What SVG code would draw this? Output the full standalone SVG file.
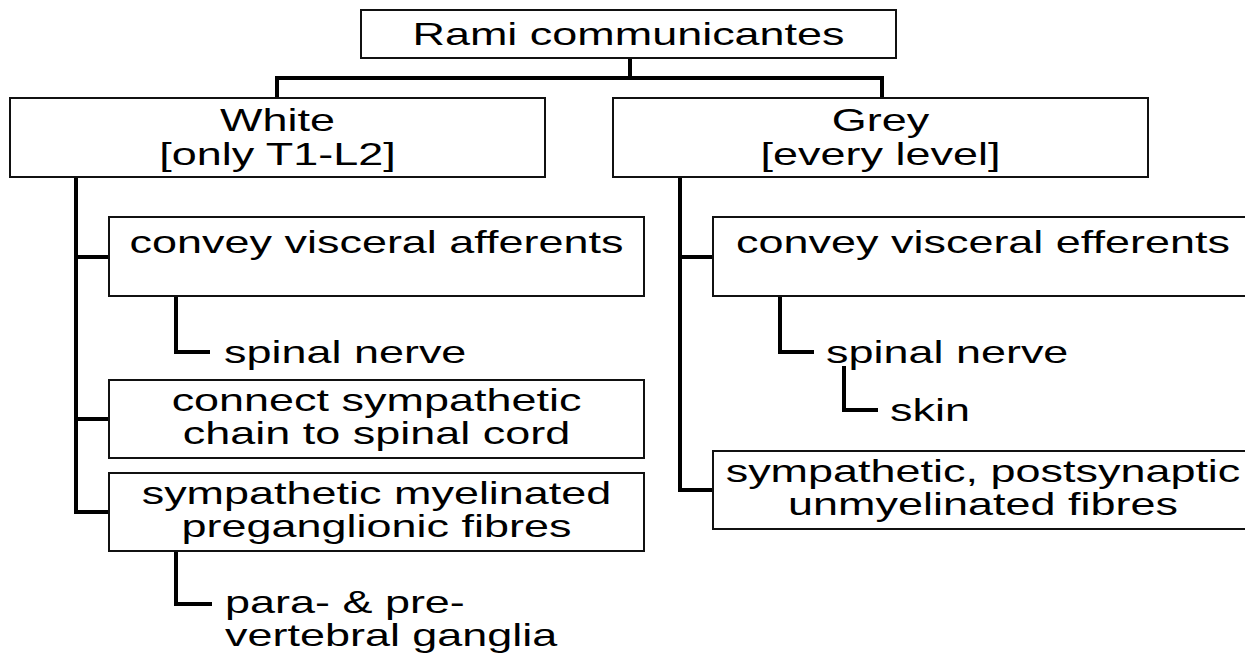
<svg xmlns="http://www.w3.org/2000/svg" width="1245" height="654" viewBox="0 0 1245 654">
<style>
.box{fill:#fff;stroke:#111;stroke-width:2}
.con{fill:none;stroke:#000;stroke-width:4;stroke-linecap:square}
text{font-family:"Liberation Sans",Arial,sans-serif;font-size:31px;fill:#000}
.c{text-anchor:middle}
</style>
<rect width="1245" height="654" fill="#fff"/>
<g id="connectors">
<path class="con" d="M630 58V78M277 78H882M277 78V98M882 78V98"/>
<path class="con" d="M76 177V512M76 257H109M76 419H109M76 512H109"/>
<path class="con" d="M176 296V352H208"/>
<path class="con" d="M176 551V604H210"/>
<path class="con" d="M680 177V490M680 257H713M680 490H713"/>
<path class="con" d="M780 296V352H812"/>
<path class="con" d="M844 368V410H876"/>
</g>
<g id="root"><rect class="box" x="361" y="10" width="535" height="48"/>
<text class="c" transform="translate(628.5,45) scale(1.45,1)">Rami communicantes</text></g>
<g id="white"><rect class="box" x="10" y="98" width="535" height="79"/>
<text class="c" transform="translate(277.5,131) scale(1.45,1)">White</text>
<text class="c" transform="translate(277.5,165) scale(1.45,1)">[only T1-L2]</text></g>
<g id="grey"><rect class="box" x="613" y="98" width="535" height="79"/>
<text class="c" transform="translate(880.5,131) scale(1.45,1)">Grey</text>
<text class="c" transform="translate(880.5,165) scale(1.45,1)">[every level]</text></g>
<g id="afferents"><rect class="box" x="109" y="217" width="535" height="79"/>
<text class="c" transform="translate(376.5,253) scale(1.45,1)">convey visceral afferents</text></g>
<g id="spinal-left"><text transform="translate(224,363) scale(1.45,1)">spinal nerve</text></g>
<g id="connect"><rect class="box" x="109" y="380" width="535" height="78"/>
<text class="c" transform="translate(376.5,411) scale(1.45,1)">connect sympathetic</text>
<text class="c" transform="translate(376.5,444) scale(1.45,1)">chain to spinal cord</text></g>
<g id="myelinated"><rect class="box" x="109" y="473" width="535" height="78"/>
<text class="c" transform="translate(376.5,504) scale(1.45,1)">sympathetic myelinated</text>
<text class="c" transform="translate(376.5,537) scale(1.45,1)">preganglionic fibres</text></g>
<g id="ganglia"><text transform="translate(225,613) scale(1.45,1)">para- &amp; pre-</text>
<text transform="translate(225,646) scale(1.45,1)">vertebral ganglia</text></g>
<g id="efferents"><rect class="box" x="713" y="217" width="540" height="79"/>
<text class="c" transform="translate(983,253) scale(1.45,1)">convey visceral efferents</text></g>
<g id="spinal-right"><text transform="translate(826,363) scale(1.45,1)">spinal nerve</text></g>
<g id="skin"><text transform="translate(890,421) scale(1.45,1)">skin</text></g>
<g id="postsynaptic"><rect class="box" x="713" y="451" width="540" height="78"/>
<text class="c" transform="translate(983,482) scale(1.45,1)">sympathetic, postsynaptic</text>
<text class="c" transform="translate(983,515) scale(1.45,1)">unmyelinated fibres</text></g>
</svg>
